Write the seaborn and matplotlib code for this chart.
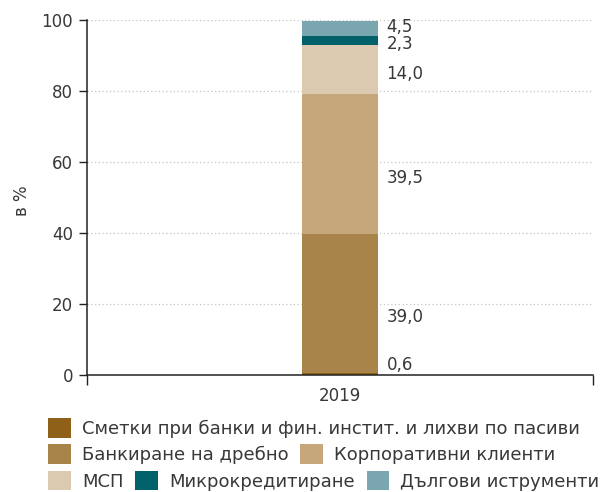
import matplotlib
matplotlib.use("Agg")
import matplotlib.pyplot as plt
from matplotlib.patches import Patch
import seaborn as sns
import pandas as pd
import numpy as np

years = ["2019"]
segments = [
    "Сметки при банки и фин. инстит. и лихви по пасиви",
    "Банкиране на дребно",
    "Корпоративни клиенти",
    "МСП",
    "Микрокредитиране",
    "Дългови иструменти",
]
values = [0.6, 39.0, 39.5, 14.0, 2.3, 4.5]
colors = ["#8f6118", "#a8834a", "#c5a77b", "#dccab0", "#00616b", "#7aa7af"]

sns.set_theme(style="white")
plt.rcParams["font.family"] = ["DejaVu Sans"]
text_col = "#383838"

fig = plt.figure(figsize=(6.08, 4.92), dpi=100)
ax = fig.add_axes([0.143, 0.238, 0.832, 0.721])

df = pd.DataFrame({"year": years * len(segments), "segment": segments, "value": values})
bottoms = np.concatenate([[0], np.cumsum(values)[:-1]])

# label positions: a bit below segment middle, then pushed apart where crowded
label_y = []
for v, b in zip(values, bottoms):
    label_y.append(max(b + v / 2 - 0.1 * v, 2.8))
min_gap = 4.8
for i in range(1, len(label_y)):
    gap = label_y[i] - label_y[i - 1]
    if gap < min_gap:
        d = (min_gap - gap) / 2
        label_y[i] += d
        label_y[i - 1] -= d

for seg, v, b, c, ly in zip(segments, values, bottoms, colors, label_y):
    ax.bar(0, v, bottom=b, width=0.15, color=c, label=seg, linewidth=0)
    ax.text(0.092, ly, f"{v:.1f}".replace(".", ","), ha="left", va="center",
            fontsize=12, color=text_col)

ax.set_xlim(-0.5, 0.5)
ax.set_ylim(0, 100)
ax.set_yticks(range(0, 101, 20))
ax.set_xticks([-0.5, 0.5])
ax.set_xticklabels([])
ax.set_xticks([0], labels=years, minor=True)
ax.set_ylabel("в %", fontsize=12, color=text_col)
ax.yaxis.set_label_coords(-0.111, 0.49)
ax.yaxis.grid(True, linestyle=(0, (1, 2)), color="#c4c4c4", linewidth=0.9)
ax.set_axisbelow(True)
for s in ["top", "right"]:
    ax.spines[s].set_visible(False)
for s in ["left", "bottom"]:
    ax.spines[s].set_color("#222222")
    ax.spines[s].set_linewidth(1.1)
ax.tick_params(axis="y", left=True, length=6, width=1, color="#222222",
               labelsize=12, labelcolor=text_col, pad=4)
ax.tick_params(axis="x", which="major", bottom=True, length=7, width=1, color="#222222")
ax.tick_params(axis="x", which="minor", bottom=False, length=0,
               labelsize=12, labelcolor=text_col, pad=9)

handles = [Patch(facecolor=c, edgecolor="none") for c in colors]
rows = [[0], [1, 2], [3, 4, 5]]
row_y = [0.130, 0.077, 0.023]
for idx, y in zip(rows, row_y):
    fig.legend([handles[i] for i in idx], [segments[i] for i in idx],
               loc="center left", bbox_to_anchor=(0.079, y), ncol=len(idx),
               frameon=False, fontsize=13, handlelength=1.27, handleheight=1.27,
               handletextpad=0.6, columnspacing=0.66, borderaxespad=0,
               borderpad=0, labelcolor=text_col)

fig.savefig("out.png", dpi=100)
